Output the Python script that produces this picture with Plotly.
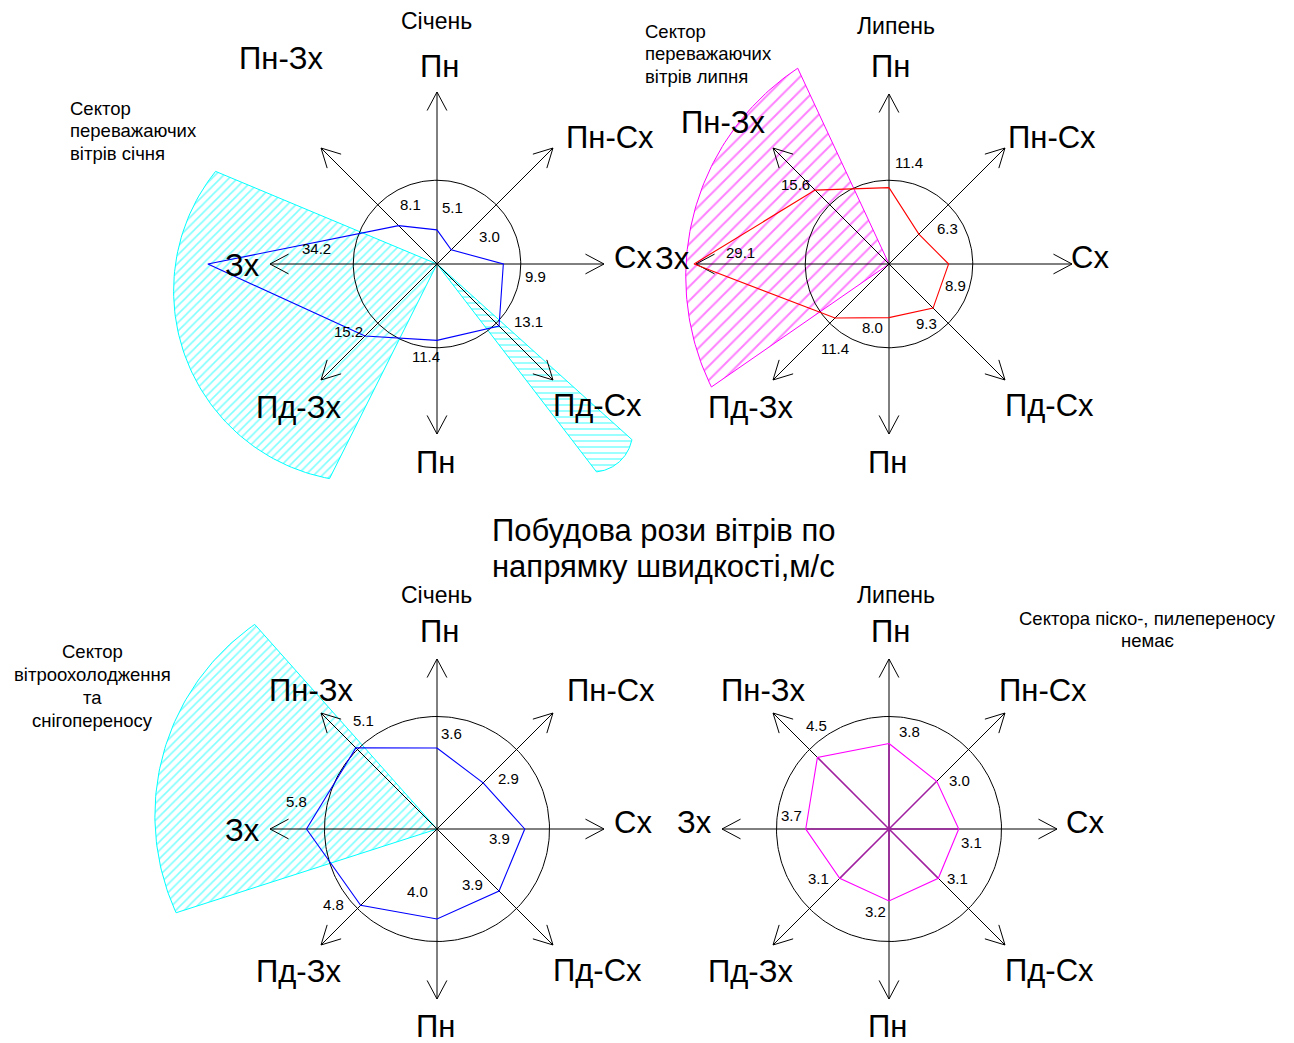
import numpy as np
import plotly.graph_objects as go

# ---------------- data ----------------
DIR_LABELS = ["Пн", "Пн-Сх", "Сх", "Пд-Сх", "Пн", "Пд-Зх", "Зх", "Пн-Зх"]
BEARINGS = [0, 45, 90, 135, 180, 225, 270, 315]

JAN_FREQ = [5.1, 3.0, 9.9, 13.1, 11.4, 15.2, 34.2, 8.1]     # повторюваність, %
JUL_FREQ = [11.4, 6.3, 8.9, 9.3, 8.0, 11.4, 29.1, 15.6]     # повторюваність, %
JAN_SPEED = [3.6, 2.9, 3.9, 3.9, 4.0, 4.8, 5.8, 5.1]        # швидкість, м/с
JUL_SPEED = [3.8, 3.0, 3.1, 3.1, 3.2, 3.1, 3.7, 4.5]        # швидкість, м/с
SPEED_RING = 5.0

# sectors: (bearing from, bearing to)
JAN_SECTORS = [(206.6, 292.7), (131.9, 142.5)]
JUL_SECTORS = [(235.3, 335.0)]
JAN_CHILL_SECTORS = [(252.2, 318.3)]

MONTHS = ["Січень", "Липень", "Січень", "Липень"]
MAIN_TITLE = ["Побудова рози вітрів по", "напрямку швидкості,м/с"]
CAPTIONS = [
    ["Сектор", "переважаючих", "вітрів січня"],
    ["Сектор", "переважаючих", "вітрів липня"],
    ["Сектор", "вітроохолодження", "та", "снігопереносу"],
    ["Сектора піско-, пилепереносу", "немає"],
]

# ---------------- layout / style ----------------
W, H = 1294, 1043
FONT = "Liberation Sans, Arial, sans-serif"
CYAN = "#00FFFF"
MAGENTA = "#FF00FF"

ROSES = [
    dict(values=JAN_FREQ, ring=float(np.mean(JAN_FREQ)), center=(437, 264), scale=6.7,
         color="#0000FF", spokes=False,
         arrow=[172, 164, 167, 164, 170, 164, 167, 164],
         dir_off=[(2, -198), (173, -127), (196, -7), (160, 141), (-2, 198), (-139, 143), (-195, 1), (-156, -206)],
         num_off=[(15, -22), (38, -13), (32, 12), (29, -5), (-11, 16), (-16, -5), (109, -16), (12, -21)],
         sectors=[dict(b=JAN_SECTORS[0], r=240, R=191, shape="/", size=6, solid=0.26, color=CYAN),
                  dict(b=JAN_SECTORS[1], r=262, R=40, shape="-", size=6, solid=0.26, color=CYAN)],
         month_pos=(436, 21), caption_pos=(68, 108), caption_step=22.5, caption_anchor="left"),
    dict(values=JUL_FREQ, ring=float(np.mean(JUL_FREQ)), center=(889, 264), scale=6.7,
         color="#FF0000", spokes=False,
         arrow=[170, 164, 183, 164, 170, 164, 193, 164],
         dir_off=[(1, -198), (163, -127), (201, -7), (160, 141), (-2, 198), (-139, 143), (-217, -6), (-166, -142)],
         num_off=[(20, -25), (29, -6), (7, 21), (-7, 15), (-17, 10), (0, 30), (46, -12), (-20, -6)],
         sectors=[dict(b=JUL_SECTORS[0], r=216, R=250, shape="/", size=10, solid=0.2, color=MAGENTA)],
         month_pos=(896, 26), caption_pos=(643, 31), caption_step=22.5, caption_anchor="left"),
    dict(values=JAN_SPEED, ring=SPEED_RING, center=(437, 829), scale=22.5,
         color="#0000FF", spokes=False,
         arrow=[170, 164, 167, 164, 170, 164, 167, 164],
         dir_off=[(2, -198), (174, -139), (196, -7), (160, 141), (-2, 197), (-139, 142), (-195, 1), (-126, -139)],
         num_off=[(14, -15), (25, -4), (-25, 9), (-27, -7), (-20, -28), (-27, -1), (-10, -28), (8, -27)],
         sectors=[dict(b=JAN_CHILL_SECTORS[0], r=274, R=233, shape="/", size=6, solid=0.26, color=CYAN)],
         month_pos=(436, 595), caption_pos=(92, 651), caption_step=23, caption_anchor="center"),
    dict(values=JUL_SPEED, ring=SPEED_RING, center=(889, 829), scale=22.5,
         color=MAGENTA, spokes=True,
         arrow=[170, 164, 168, 164, 170, 164, 167, 164],
         dir_off=[(1, -198), (154, -139), (196, -7), (160, 141), (-2, 197), (-139, 142), (-195, -7), (-126, -139)],
         num_off=[(20, -12), (23, -1), (13, 13), (19, 0), (-14, 10), (-21, 0), (-14, -14), (-1, -32)],
         sectors=[],
         month_pos=(896, 595), caption_pos=(1147, 618), caption_step=22.5, caption_anchor="center"),
]


def pt(c, b, r):
    a = np.deg2rad(b)
    return np.array([c[0] + r * np.sin(a), c[1] - r * np.cos(a)])


def sector_path(c, b1, b2, r, R):
    c = np.array(c, dtype=float)
    p1, p2 = pt(c, b1, r), pt(c, b2, r)
    m = (p1 + p2) / 2
    ch = p2 - p1
    half = np.linalg.norm(ch) / 2
    n = np.array([-ch[1], ch[0]]) / np.linalg.norm(ch)
    if np.dot(c - m, n) < 0:
        n = -n
    o = m + np.sqrt(max(R * R - half * half, 0)) * n
    t1 = np.arctan2(*(p1 - o)[::-1])
    t2 = np.arctan2(*(p2 - o)[::-1])
    dt = (t2 - t1 + np.pi) % (2 * np.pi) - np.pi
    ts = t1 + dt * np.linspace(0, 1, 80)
    arc = np.stack([o[0] + R * np.cos(ts), o[1] + R * np.sin(ts)], axis=1)
    pts = np.vstack([c, p1, arc, p2, c])
    return pts[:, 0], pts[:, 1]


fig = go.Figure()
ann = []

# sectors (bottom layer)
for rose in ROSES:
    for s in rose["sectors"]:
        xs, ys = sector_path(rose["center"], s["b"][0], s["b"][1], s["r"], s["R"])
        fig.add_trace(go.Scatter(
            x=xs, y=ys, mode="lines", fill="toself",
            line=dict(color=s["color"], width=1),
            fillcolor="rgba(0,0,0,0)",
            fillpattern=dict(shape=s["shape"], fgcolor=s["color"], bgcolor="rgba(0,0,0,0)",
                             size=s["size"], solidity=s["solid"]),
            hoverinfo="skip", showlegend=False))

for rose in ROSES:
    c = np.array(rose["center"], dtype=float)
    # ring
    t = np.linspace(0, 360, 241)
    ring = np.array([pt(c, b, rose["ring"] * rose["scale"]) for b in t])
    fig.add_trace(go.Scatter(x=ring[:, 0], y=ring[:, 1], mode="lines",
                             line=dict(color="black", width=1), hoverinfo="skip", showlegend=False))
    # arrows
    ax, ay = [], []
    for b, L in zip(BEARINGS, rose["arrow"]):
        tip = pt(c, b, L)
        ax += [c[0], tip[0], None]
        ay += [c[1], tip[1], None]
        for d in (-28, 28):
            e = pt(tip, b + 180 + d, 21)
            ax += [tip[0], e[0], None]
            ay += [tip[1], e[1], None]
    fig.add_trace(go.Scatter(x=ax, y=ay, mode="lines", line=dict(color="black", width=1),
                             hoverinfo="skip", showlegend=False))
    # polygon
    verts = np.array([pt(c, b, v * rose["scale"]) for b, v in zip(BEARINGS, rose["values"])])
    if rose["spokes"]:
        sx, sy = [], []
        for v in verts:
            sx += [c[0], v[0], None]
            sy += [c[1], v[1], None]
        fig.add_trace(go.Scatter(x=sx, y=sy, mode="lines", line=dict(color="#A020A0", width=1.6),
                                 hoverinfo="skip", showlegend=False))
    closed = np.vstack([verts, verts[:1]])
    fig.add_trace(go.Scatter(x=closed[:, 0], y=closed[:, 1], mode="lines",
                             line=dict(color=rose["color"], width=1.1),
                             hoverinfo="skip", showlegend=False))
    # value labels
    for v, xy, off in zip(rose["values"], verts, rose["num_off"]):
        ann.append(dict(x=xy[0] + off[0], y=xy[1] + off[1], text=f"{v:.1f}",
                        font=dict(size=15, color="black", family=FONT)))
    # direction labels
    for lab, off in zip(DIR_LABELS, rose["dir_off"]):
        ann.append(dict(x=c[0] + off[0], y=c[1] + off[1], text=lab,
                        font=dict(size=31, color="black", family=FONT)))

# month titles and captions
for rose, m, cap in zip(ROSES, MONTHS, CAPTIONS):
    ann.append(dict(x=rose["month_pos"][0], y=rose["month_pos"][1], text=m,
                    font=dict(size=23, color="black", family=FONT)))
    for i, line in enumerate(cap):
        ann.append(dict(x=rose["caption_pos"][0], y=rose["caption_pos"][1] + i * rose["caption_step"],
                        text=line, xanchor=rose["caption_anchor"],
                        font=dict(size=18.5, color="black", family=FONT)))

for i, line in enumerate(MAIN_TITLE):
    ann.append(dict(x=663, y=530 + 36 * i, text=line,
                    font=dict(size=31, color="black", family=FONT)))

for a in ann:
    a.setdefault("xanchor", "center")
    a.update(xref="x", yref="y", yanchor="middle", showarrow=False)

fig.update_layout(
    width=W, height=H, margin=dict(l=0, r=0, t=0, b=0),
    paper_bgcolor="white", plot_bgcolor="white",
    xaxis=dict(range=[0, W], visible=False, fixedrange=True),
    yaxis=dict(range=[H, 0], visible=False, fixedrange=True),
    annotations=ann, showlegend=False,
)

fig.write_html("out.html", include_plotlyjs=True, config={"displayModeBar": False},
               post_script="document.body.style.margin='0';document.body.style.overflow='hidden';")
